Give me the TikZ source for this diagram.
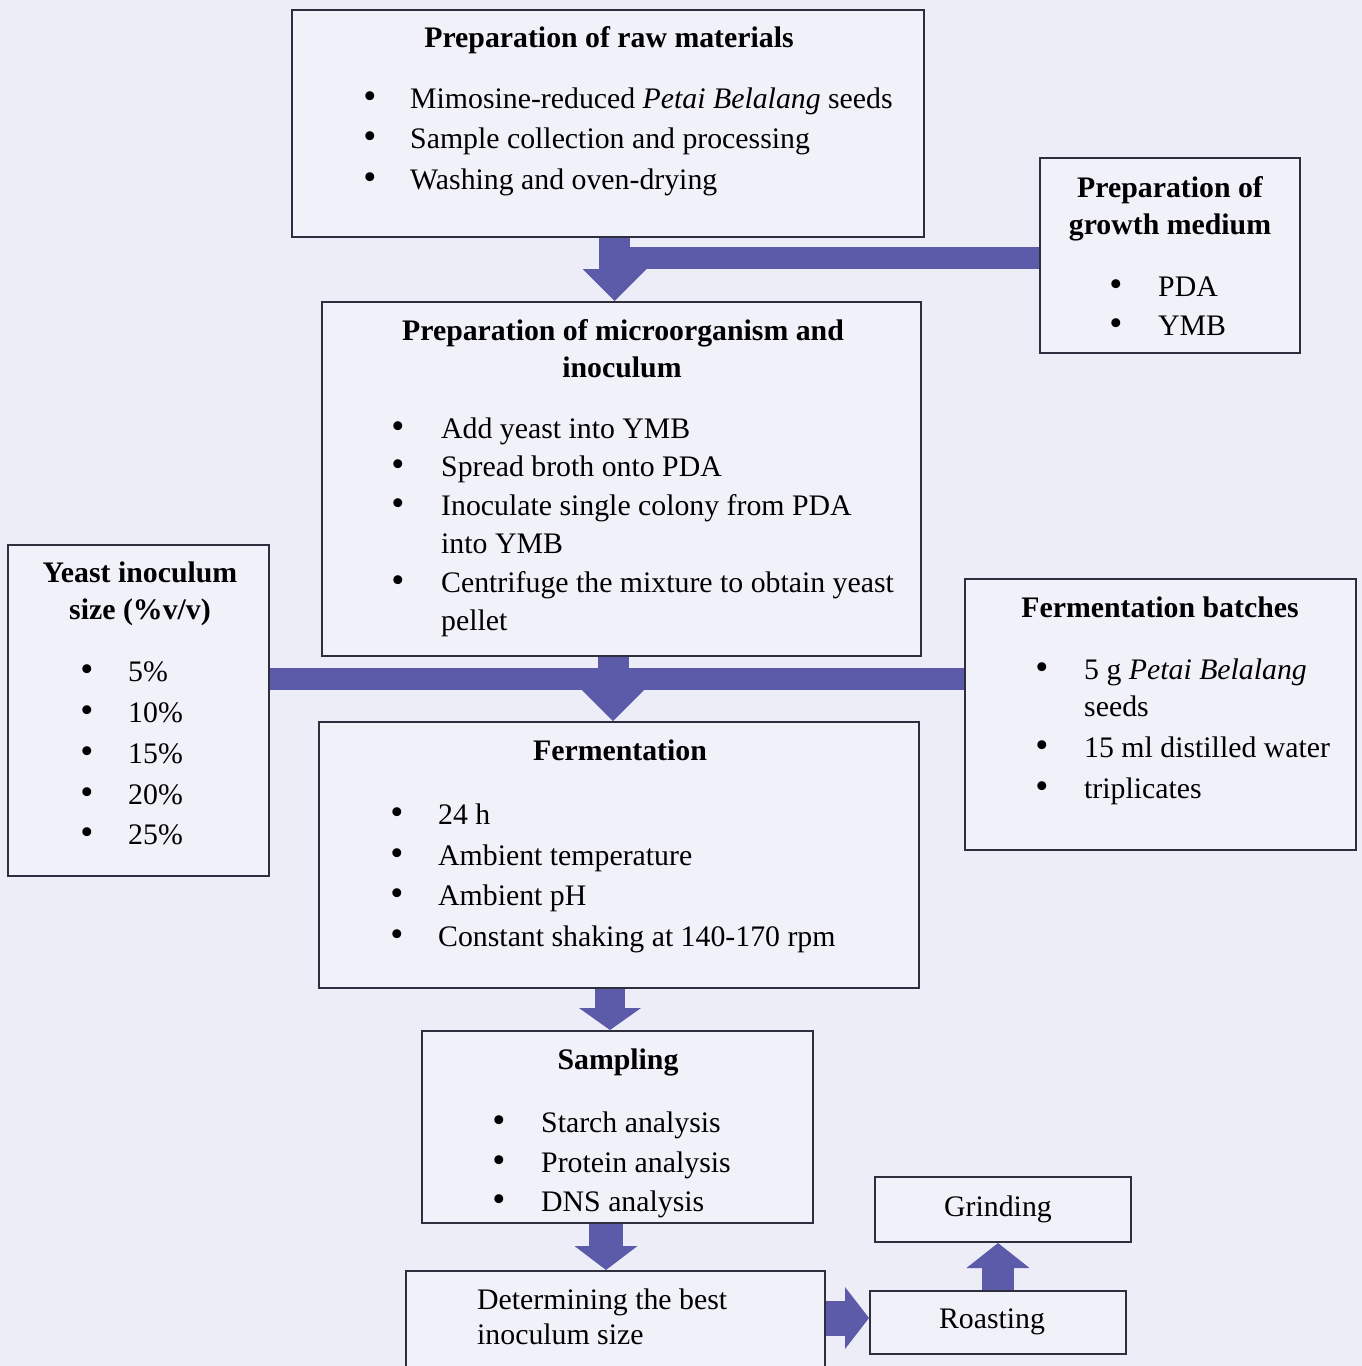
\documentclass[tikz,border=0pt]{standalone}
\usepackage{fontspec}
\setmainfont{Liberation Serif}
\usetikzlibrary{arrows.meta,calc}
\definecolor{bg}{HTML}{EDEDF8}
\definecolor{boxbg}{HTML}{F1F1FA}
\definecolor{arr}{HTML}{5B5BAA}
\definecolor{edge}{HTML}{2E2E3E}
\newcommand\bl[5]{\node[t] (#1-b) at (#2,#4) {\scalebox{1.25}{\textbullet}}; \node[t,anchor=west] (#1) at (#3,#4) {#5};}
\begin{document}
\begin{tikzpicture}[x=1pt,y=-1pt,
 box/.style={draw=edge, line width=2pt, fill=boxbg, inner sep=0pt},
 t/.style={inner sep=0pt, text height=21pt, text depth=7pt, font=\fontsize{29.8}{36}\selectfont},
 tb/.style={t, font=\fontsize{29.8}{36}\selectfont\bfseries},
 bar/.style={arr, line width=22pt},
 barrow/.style={arr, line width=#1pt},
 tipd/.style 2 args={-{Triangle[length=#1pt,width=#2pt,line width=0pt]}},
]
\useasboundingbox (0,0) rectangle (1362,1366);
\clip (0,0) rectangle (1362,1366);
\fill[bg] (0,0) rectangle (1362,1366);

% boxes
\node[box, minimum width=632pt, minimum height=227pt] (A) at (608,123.5) {};
\node[box, minimum width=260pt, minimum height=195pt] (B) at (1170,255.5) {};
\node[box, minimum width=599pt, minimum height=354pt] (C) at (621.5,479) {};
\node[box, minimum width=261pt, minimum height=331pt] (D) at (138.5,710.5) {};
\node[box, minimum width=391pt, minimum height=271pt] (E) at (1160.5,714.5) {};
\node[box, minimum width=600pt, minimum height=266pt] (F) at (619,855) {};
\node[box, minimum width=391pt, minimum height=192pt] (G) at (617.5,1127) {};
\node[box, minimum width=419pt, minimum height=109pt] (H) at (615.5,1325.5) {};
\node[box, minimum width=256pt, minimum height=65pt] (I) at (1003,1209.5) {};
\node[box, minimum width=256pt, minimum height=63pt] (J) at (998,1322.5) {};

% connectors
\draw[bar] (B.west |- 0,258) -- (614.5,258);
\draw[barrow=31, tipd={32}{64}] (A.south -| 614.5,0) -- (C.north -| 614.5,0);
\draw[bar] (D.east |- 0,679) -- (E.west |- 0,679);
\draw[barrow=31, tipd={32}{64}] (C.south -| 613,0) -- (F.north -| 613,0);
\draw[barrow=30, tipd={22}{62}] (F.south -| 610,0) -- (G.north -| 610,0);
\draw[barrow=34, tipd={24}{63}] (G.south -| 606,0) -- (H.north -| 606,0);
\draw[barrow=35, tipd={24}{62}] (H.east |- 0,1318) -- (J.west |- 0,1318);
\draw[barrow=32, tipd={25}{63}] (J.north -| 998,0) -- (I.south -| 998,0);

% texts A
\node[tb] (A-t) at (609,40) {Preparation of raw materials};
\bl{a1}{370}{410}{101}{Mimosine-reduced \textit{Petai Belalang} seeds}
\bl{a2}{370}{410}{141}{Sample collection and processing}
\bl{a3}{370}{410}{182}{Washing and oven-drying}
% B
\node[tb] (B-t1) at (1170,190) {Preparation of};
\node[tb] (B-t2) at (1170,227) {growth medium};
\bl{b1}{1116}{1158}{289}{PDA}
\bl{b2}{1116}{1158}{328}{YMB}
% C
\node[tb] (C-t1) at (623,333) {Preparation of microorganism and};
\node[tb] (C-t2) at (622,370) {inoculum};
\bl{c1}{398}{441}{431}{Add yeast into YMB}
\bl{c2}{398}{441}{469}{Spread broth onto PDA}
\bl{c3}{398}{441}{508}{Inoculate single colony from PDA}
\node[t,anchor=west] (c3b) at (441,546) {into YMB};
\bl{c4}{398}{441}{585}{Centrifuge the mixture to obtain yeast}
\node[t,anchor=west] (c4b) at (441,623) {pellet};
% D
\node[tb] (D-t1) at (140,575) {Yeast inoculum};
\node[tb] (D-t2) at (140,612) {size (\%v/v)};
\bl{d1}{87}{128}{674}{5\%}
\bl{d2}{87}{128}{715}{10\%}
\bl{d3}{87}{128}{756}{15\%}
\bl{d4}{87}{128}{797}{20\%}
\bl{d5}{87}{128}{837}{25\%}
% E
\node[tb] (E-t) at (1160,610) {Fermentation batches};
\bl{e1}{1042}{1084}{672}{5 g \textit{Petai Belalang}}
\node[t,anchor=west] (e1b) at (1084,709) {seeds};
\bl{e2}{1042}{1084}{750}{15 ml distilled water}
\bl{e3}{1042}{1084}{791}{triplicates}
% F
\node[tb] (F-t) at (620,753) {Fermentation};
\bl{f1}{397}{438}{817}{24 h}
\bl{f2}{397}{438}{858}{Ambient temperature}
\bl{f3}{397}{438}{898}{Ambient pH}
\bl{f4}{397}{438}{939}{Constant shaking at 140-170 rpm}
% G
\node[tb] (G-t) at (618,1062) {Sampling};
\bl{g1}{499}{541}{1125}{Starch analysis}
\bl{g2}{499}{541}{1165}{Protein analysis}
\bl{g3}{499}{541}{1204}{DNS analysis}
% H, I, J
\node[t,anchor=west] (h1) at (477,1302) {Determining the best};
\node[t,anchor=west] (h2) at (477,1337) {inoculum size};
\node[t] (I-t) at (998,1209) {Grinding};
\node[t] (J-t) at (992,1321) {Roasting};
\end{tikzpicture}
\end{document}
